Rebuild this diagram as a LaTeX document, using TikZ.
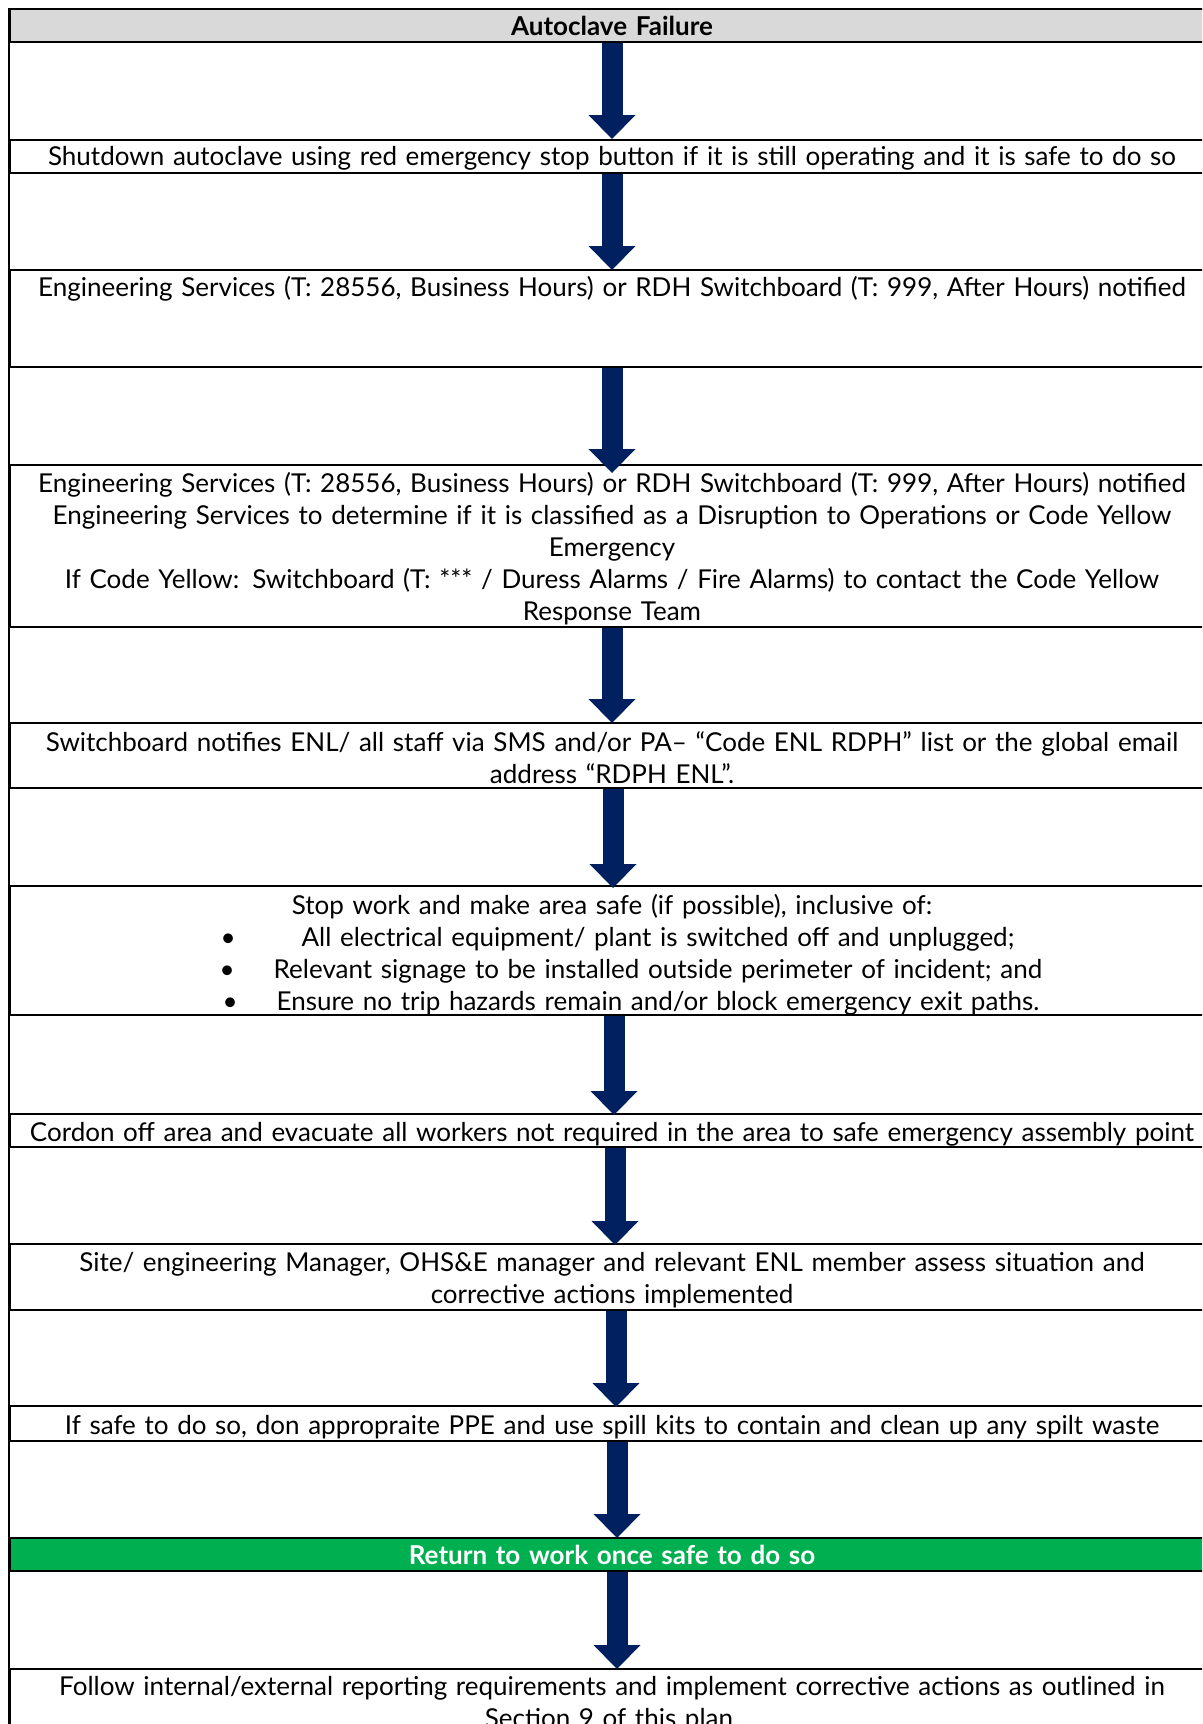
\documentclass[tikz,border=0pt]{standalone}
\usepackage{fontspec}
\setmainfont{Lato}
\usetikzlibrary{arrows.meta}
\definecolor{navy}{HTML}{002060}
\definecolor{hdrgray}{HTML}{D9D9D9}
\definecolor{okgreen}{HTML}{00B050}
\newcommand\bodyfont{\fontsize{26}{32}\selectfont}

\begin{document}
\begin{tikzpicture}[x=1pt,y=-1pt,
  cell/.style={draw=black, line width=1.8pt, anchor=north, inner sep=0pt,
    minimum width=1204pt, text width=1200pt, align=center, font=\bodyfont},
  % #1 = first baseline below the top rule, #2 = rest of the row height
  rowsize/.style 2 args={text height=#1, text depth=#2},
  flow/.style={draw=navy, line width=21pt,
    -{Triangle[width=47pt,length=24pt,line width=0pt]}},
]
\useasboundingbox (0,0) rectangle (1202,1724);
\clip (0,0) rectangle (1202,1724);

% table rows (gaps between them hold the arrows)
\node[cell, fill=hdrgray, rowsize={27pt}{6pt}] (hdr) at (612,8) {\textbf{Autoclave Failure}};
\node[cell, rowsize={26pt}{7pt}] (r1) at (612,139)
  {Shutdown autoclave using red emergency stop button if it is still operating and it is safe to do so};
\node[cell, rowsize={27pt}{70pt}] (r2) at (612,269)
  {Engineering Services (T: 28556, Business Hours) or RDH Switchboard (T: 999, After Hours) notified};
\node[cell, rowsize={28pt}{134pt}] (r3) at (612,464)
  {Engineering Services (T: 28556, Business Hours) or RDH Switchboard (T: 999, After Hours) notified\\
   Engineering Services to determine if it is classified as a Disruption to Operations or Code Yellow\\
   Emergency\\
   If Code Yellow: Switchboard (T: *** / Duress Alarms / Fire Alarms) to contact the Code Yellow\\
   Response Team};
\node[cell, rowsize={29pt}{36pt}] (r4) at (612,722)
  {Switchboard notifies ENL/ all staff via SMS and/or PA– “Code ENL RDPH” list or the global email\\
   address “RDPH ENL”.};
\node[cell, rowsize={29pt}{100pt}] (r5) at (612,885)
  {Stop work and make area safe (if possible), inclusive of:\\
   \hspace*{92pt}\llap{\textbullet\hspace{66pt}}All electrical equipment/ plant is switched off and unplugged;\\
   \hspace*{92pt}\llap{\textbullet\hspace{39pt}}Relevant signage to be installed outside perimeter of incident; and\\
   \hspace*{92pt}\llap{\textbullet\hspace{39pt}}Ensure no trip hazards remain and/or block emergency exit paths.};
\node[cell, rowsize={28pt}{5pt}] (r6) at (612,1113)
  {Cordon off area and evacuate all workers not required in the area to safe emergency assembly point};
\node[cell, rowsize={28pt}{38pt}] (r7) at (612,1243)
  {Site/ engineering Manager, OHS\&E manager and relevant ENL member assess situation and\\
   corrective actions implemented};
\node[cell, rowsize={29pt}{6pt}] (r8) at (612,1405)
  {If safe to do so, don appropraite PPE and use spill kits to contain and clean up any spilt waste};
\node[cell, fill=okgreen, text=white, rowsize={27pt}{6pt}] (r9) at (612,1537)
  {\textbf{Return to work once safe to do so}};
\node[cell, rowsize={27pt}{90pt}] (r10) at (612,1668)
  {Follow internal/external reporting requirements and implement corrective actions as outlined in\\
   Section 9 of this plan.};

% left table border through the empty rows
\draw[line width=1.8pt] (hdr.north west) -- (r10.south west);

% flow arrows
\draw[flow] (hdr.south) -- ([yshift=0pt]r1.north);
\draw[flow] (r1.south) -- ([yshift=-1pt]r2.north);
\draw[flow] (r2.south) -- ([yshift=-9pt]r3.north);
\draw[flow] (r3.south) -- ([yshift=-1pt]r4.north);
\draw[flow] ([xshift=1pt]r4.south) -- ([xshift=1pt,yshift=-3pt]r5.north);
\draw[flow] ([xshift=2pt]r5.south) -- ([xshift=2pt,yshift=-2pt]r6.north);
\draw[flow] ([xshift=3pt]r6.south) -- ([xshift=3pt,yshift=-2pt]r7.north);
\draw[flow] ([xshift=4pt]r7.south) -- ([xshift=4pt,yshift=-2pt]r8.north);
\draw[flow] ([xshift=5pt]r8.south) -- ([xshift=5pt,yshift=-1pt]r9.north);
\draw[flow] ([xshift=5pt]r9.south) -- ([xshift=5pt,yshift=-1pt]r10.north);
\end{tikzpicture}
\end{document}
